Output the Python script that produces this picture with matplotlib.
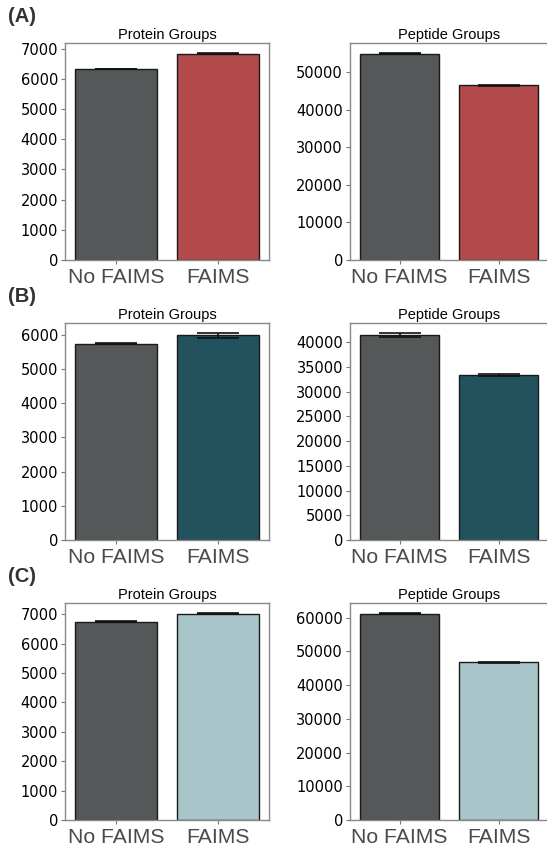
import matplotlib.pyplot as plt
from matplotlib.ticker import MultipleLocator

categories = ["No FAIMS", "FAIMS"]
panel_labels = ["(A)", "(B)", "(C)"]
titles = ["Protein Groups", "Peptide Groups"]

# mean values per panel row: (protein, peptide)
protein_means = [[6325, 6840], [5745, 5980], [6750, 7020]]
protein_err = [[10, 10], [15, 63], [10, 8]]
peptide_means = [[54840, 46480], [41350, 33310], [61200, 46790]]
peptide_err = [[80, 120], [400, 150], [120, 120]]
protein_steps = [1000, 1000, 1000]
peptide_steps = [10000, 5000, 10000]

row_colors = ["#b2494b", "#22525e", "#a8c5ca"]
grey = "#555858"

plt.rcParams["font.family"] = ["DejaVu Sans"]
fig = plt.figure(figsize=(5.47, 8.48), dpi=100)

rows_bottom = [0.6934, 0.3632, 0.0330]
h = 0.2559
for r in range(3):
    b = rows_bottom[r]
    ax1 = fig.add_axes([65 / 547, b, 204 / 547, h])
    ax2 = fig.add_axes([350 / 547, b, 198.4 / 547, h])
    for ax, means, errs, title, step in [
            (ax1, protein_means[r], protein_err[r], titles[0], protein_steps[r]),
            (ax2, peptide_means[r], peptide_err[r], titles[1], peptide_steps[r])]:
        ax.bar([0, 1], means, width=0.8, color=[grey, row_colors[r]],
               edgecolor="#1a1a1a", linewidth=1.0)
        ax.errorbar([0, 1], means, yerr=errs, fmt="none", ecolor="#111111",
                    elinewidth=1.2, capsize=14.8, capthick=1.2)
        ax.set_xlim(-0.5, 1.5)
        ax.set_ylim(0, (max(means) + max(errs)) * 1.05)
        ax.yaxis.set_major_locator(MultipleLocator(step))
        ax.set_xticks([0, 1])
        ax.set_xticklabels(categories, fontsize=15.2, color="#4a4a4a",
                           family="Liberation Sans")
        ax.tick_params(axis="y", labelsize=10.5, length=3, color="#777777",
                       pad=2)
        ax.tick_params(axis="x", length=3, color="#777777", pad=2.5)
        ax.set_title(title, fontsize=10.5, family="Liberation Sans", pad=3)
        for s in ax.spines.values():
            s.set_color("#888888")
            s.set_linewidth(1.0)
    fig.text(8 / 547, 1 - (16 + r * 280) / 848, panel_labels[r], fontsize=14.5,
             fontweight="bold", family="Liberation Sans", color="#333333",
             va="center", ha="left")

fig.savefig("out.png", dpi=100)
